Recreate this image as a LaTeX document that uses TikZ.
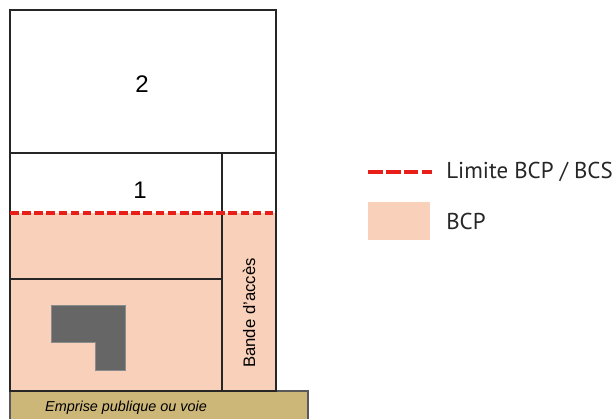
\documentclass[tikz,border=0pt]{standalone}
\usepackage{fontspec}
\setmainfont{Liberation Sans}
\newfontfamily\legendfont{PT Sans}
\usetikzlibrary{positioning}

\definecolor{bcpfill}{RGB}{249,209,186}
\definecolor{limred}{RGB}{232,30,24}
\definecolor{voiefill}{RGB}{205,183,120}
\definecolor{batigrey}{RGB}{102,102,102}

\begin{document}
\begin{tikzpicture}[
  x=0.75pt, y=-0.75pt,
  font=\normalfont,
  lot/.style   ={draw=black!85, line width=1.1pt},
  bcp/.style   ={fill=bcpfill},
  limite/.style={draw=limred, line width=2.5pt, dash pattern=on 6.5pt off 2.6pt},
  voie/.style  ={fill=voiefill, draw=black!65, line width=1pt},
  bati/.style  ={fill=batigrey, draw=black!45, line width=0.4pt},
  num/.style   ={font=\fontsize{18}{20}\selectfont},
  leg/.style   ={anchor=west, inner sep=0pt, font=\legendfont\fontsize{17.2}{20}\selectfont, text=black!85},
]
\useasboundingbox (0,0) rectangle (616,418);

% ======================= fond : bande constructible principale =======================
\fill[bcp] (10,213) rectangle (276,391);

% voie en pied de parcelle
\draw[voie] (10,420) -- (10,391) -- (308,391) -- (308,420);
\node[font=\itshape\fontsize{10.8}{12}\selectfont] (voie) at (126,408) {Emprise publique ou voie};

% construction existante (en L)
\draw[bati] (51,305) -- (125,305) -- (125,370) -- (95,370) -- (95,342) -- (51,342) -- cycle;

% ======================= decoupage des lots =======================
\draw[lot] (10,10) rectangle (276,391);
\draw[lot] (10,153) -- (276,153);
\draw[lot] (222,153) -- (222,391);
\draw[lot] (10,279) -- (222,279);

% limite BCP / BCS
\draw[limite] (10,213) -- (276,213);

\node[num] (lot2) at (142,84) {2};
\node[num] (lot1) at (140,190) {1};
\node[rotate=90, font=\fontsize{12.5}{14}\selectfont] (bande) at (249,313) {Bande d'accès};

% ======================= legende =======================
\coordinate (limA) at (368,172);
\coordinate (limB) at (432,172);
\draw[limite, dash pattern=on 11pt off 2.4pt] (limA) -- (limB);
\node[leg] (legLim) at (446,172) {Limite BCP / BCS};

\fill[bcp] (368,202) rectangle (430,240);
\node[leg] (legBcp) at (446,221) {BCP};
\end{tikzpicture}
\end{document}
